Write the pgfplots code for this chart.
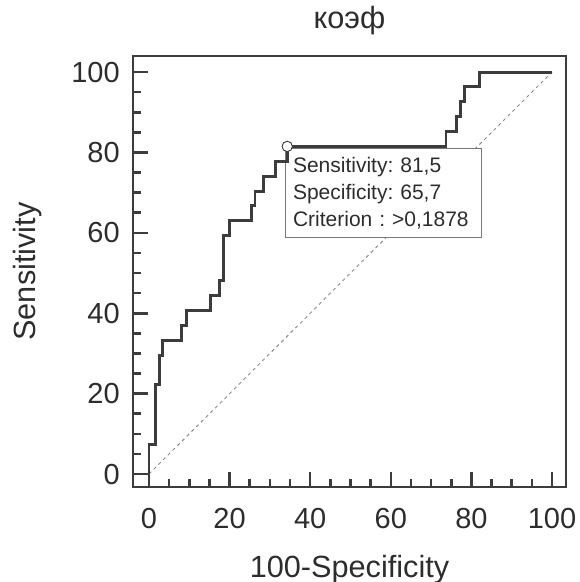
\documentclass[border=0pt]{standalone}
\usepackage{fontspec}
\setmainfont{Liberation Sans}
\usepackage{pgfplots}
\pgfplotsset{compat=1.18}
\frenchspacing

\definecolor{curvegray}{RGB}{60,60,60}
\definecolor{textgray}{RGB}{45,45,45}
\definecolor{diaggray}{RGB}{140,140,140}
\definecolor{boxgray}{RGB}{120,120,120}

\begin{document}
\begin{tikzpicture}
\begin{axis}[
    at={(0,0)}, anchor=south west,
    scale only axis,
    width=324.75pt, height=323.25pt,
    xmin=-3.97, xmax=103.47,
    ymin=-3.23, ymax=104.0,
    xtick={0,20,...,100}, ytick={0,20,...,100},
    minor tick num=3,
    xtick pos=lower, ytick pos=left,
    tick align=inside,
    major tick length=11.5pt, minor tick length=6pt,
    every tick/.style={curvegray, line width=1.9pt},
    axis line style={curvegray, line width=2.2pt},
    /pgf/number format/assume math mode=true,
    ticklabel style={font=\fontsize{21.75}{26}\selectfont, text=textgray},
    xticklabel style={anchor=base, inner sep=0pt, yshift=-30.75pt},
    yticklabel style={anchor=east, inner sep=0pt, xshift=-9.75pt},
    title={коэф},
    title style={at={(axis description cs:0.5,1)}, anchor=base, yshift=14.25pt,
                 font=\fontsize{23}{28}\selectfont, text=textgray},
    xlabel={100-Specificity},
    xlabel style={at={(axis description cs:0.5,0)}, anchor=base, yshift=-67.5pt,
                  font=\fontsize{23}{28}\selectfont, text=textgray},
    ylabel={Sensitivity},
    ylabel style={at={(axis description cs:-0.2263,0.5)}, anchor=base, rotate=0,
                  font=\fontsize{23}{28}\selectfont, text=textgray},
]
% reference line
\addplot[diaggray, line width=0.7pt, dash pattern=on 2.5pt off 2.5pt]
    coordinates {(0,0) (100,100)};

% criterion box
\node[draw=boxgray, fill=white, line width=0.7pt, anchor=north west,
      align=left, text width=135.5pt, inner xsep=5.5pt, inner ysep=6.75pt,
      font=\fontsize{15.75}{20}\selectfont, text=textgray]
    at (axis cs:33.8,81.1)
    {Sensitivity: 81,5\\Specificity: 65,7\\Criterion : >0,1878};

% ROC curve
\addplot[const plot, curvegray, line width=2.2pt] coordinates {
    (0,0) (0,7.4) (1.5,22.2) (2.7,29.6) (3.4,33.3) (8.1,37.0) (9.2,40.7)
    (15.3,44.4) (17.4,48.1) (18.4,59.3) (19.9,63.0) (25.5,66.7) (26.3,70.4)
    (28.4,74.1) (31.3,77.8) (34.3,81.5) (73.7,85.2) (76.4,88.9) (77.2,92.6)
    (78.3,96.3) (82.1,100) (100,100)
};

% optimal criterion point
\addplot[only marks, mark=*, mark size=3.9pt,
         mark options={fill=white, draw=curvegray, line width=0.7pt}]
    coordinates {(34.3,81.5)};
\end{axis}
\pgfresetboundingbox
\path[use as bounding box] (-99.75pt,-71.25pt) rectangle (335.25pt,365.25pt);
\end{tikzpicture}
\end{document}
